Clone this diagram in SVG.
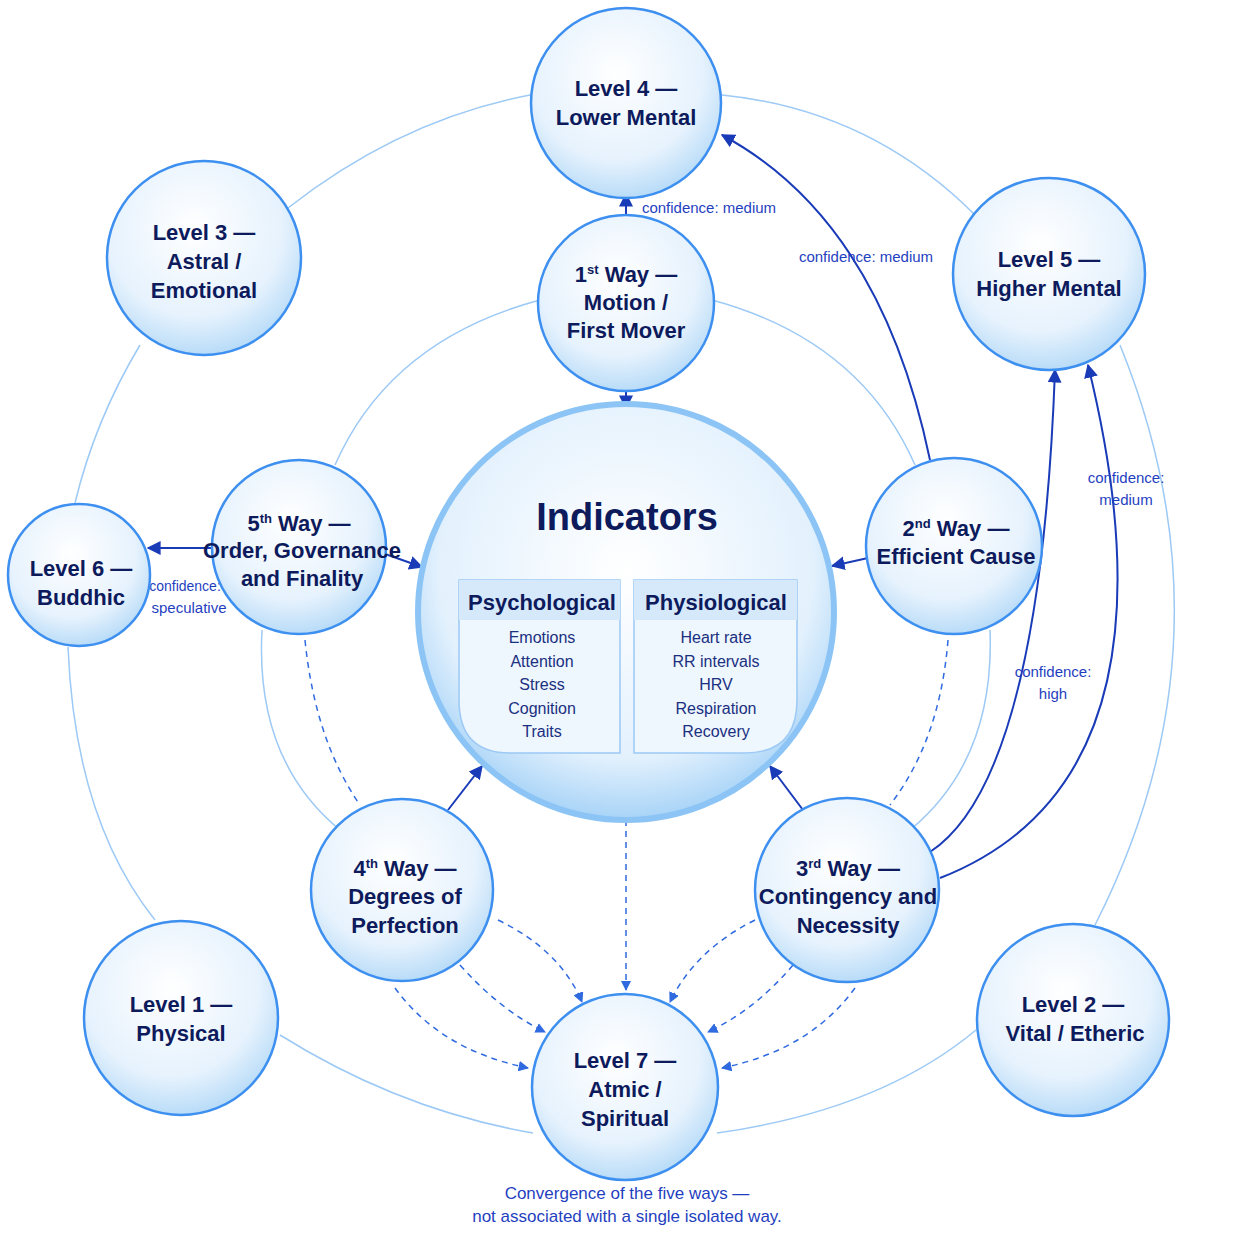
<svg xmlns="http://www.w3.org/2000/svg" width="1254" height="1254" viewBox="0 0 1254 1254">
<defs>
<radialGradient id="g" cx="45%" cy="35%" r="65%"><stop offset="0" stop-color="#ffffff"/><stop offset="0.7" stop-color="#e6f2fd"/><stop offset="1" stop-color="#b9dcf8"/></radialGradient>
<radialGradient id="gi" cx="50%" cy="40%" r="60%"><stop offset="0" stop-color="#ffffff"/><stop offset="0.75" stop-color="#e3f1fd"/><stop offset="1" stop-color="#a7d3f7"/></radialGradient>
<marker id="a" viewBox="0 0 10 10" refX="9" refY="5" markerWidth="7" markerHeight="7" orient="auto"><path d="M0,0L10,5L0,10z" fill="#1a3bb8"/></marker>
<marker id="b" viewBox="0 0 10 10" refX="9" refY="5" markerWidth="7" markerHeight="7" orient="auto"><path d="M0,0L10,5L0,10z" fill="#2f6ae0"/></marker>
<style>
.n{fill:url(#g);stroke:#3d8ff0;stroke-width:2.5}
.t{font-family:"Liberation Sans Narrow","Liberation Sans",sans-serif;font-weight:bold;font-size:22px;fill:#0d1a5c;text-anchor:middle}
.r{fill:none;stroke:#9cc9f5;stroke-width:1.5}
.s{fill:none;stroke:#1a3bb8;stroke-width:2;marker-end:url(#a)}
.d{fill:none;stroke:#2f6ae0;stroke-width:1.5;stroke-dasharray:6 5;marker-end:url(#b)}
.dl{fill:none;stroke:#2f6ae0;stroke-width:1.5;stroke-dasharray:6 5}
.c{font-family:"Liberation Sans",sans-serif;font-size:15px;fill:#1f3fbf;text-anchor:middle}
.p{font-family:"Liberation Sans",sans-serif;font-size:16px;fill:#1a3080;text-anchor:middle}
</style>
</defs>
<rect width="1254" height="1254" fill="#fff"/>
<g id="connectors">
<path class="r" d="M288,208 Q400,120 530,95"/>
<path class="r" d="M722,95 Q870,110 975,215"/>
<path class="r" d="M140,345 Q95,420 75,503"/>
<path class="r" d="M68,647 Q75,820 155,920"/>
<path class="r" d="M280,1035 Q400,1110 533,1133"/>
<path class="r" d="M717,1133 Q880,1110 976,1030"/>
<path class="r" d="M1120,345 Q1240,640 1095,925"/>
<path class="r" d="M335,465 Q390,340 540,300"/>
<path class="r" d="M712,300 Q860,340 915,465"/>
<path class="r" d="M262,630 Q255,760 340,830"/>
<path class="r" d="M990,630 Q995,760 910,830"/>
<path class="dl" d="M305,640 Q315,740 360,805"/>
<path class="dl" d="M948,640 Q940,740 890,805"/>
<path class="d" d="M626,820 L626,990"/>
<path class="d" d="M498,920 Q560,950 582,1002"/>
<path class="d" d="M460,965 Q500,1010 545,1032"/>
<path class="d" d="M395,988 Q440,1050 528,1068"/>
<path class="d" d="M755,920 Q695,950 670,1002"/>
<path class="d" d="M793,965 Q755,1010 708,1032"/>
<path class="d" d="M855,988 Q810,1050 722,1068"/>
<path class="s" d="M626,218 L626,194"/>
<path class="s" d="M626,392 L626,408"/>
<path class="s" d="M930,460 Q880,220 722,135"/>
<path class="s" d="M212,548 L148,548"/>
<path class="s" d="M388,555 L422,567"/>
<path class="s" d="M868,558 L832,566"/>
<path class="s" d="M448,810 L482,766"/>
<path class="s" d="M803,810 L770,766"/>
<path class="s" d="M930,852 Q1040,780 1055,370"/>
<path class="s" d="M940,878 Q1190,780 1088,365"/>
<text class="c" x="709" y="213">confidence: medium</text>
<text class="c" x="866" y="262">confidence: medium</text>
<text class="c" x="1126" y="483">confidence:</text>
<text class="c" x="1126" y="505">medium</text>
<text class="c" x="1053" y="677">confidence:</text>
<text class="c" x="1053" y="699">high</text>
<text class="c" x="185" y="591" style="font-size:14px">confidence:</text>
<text class="c" x="189" y="613">speculative</text>
</g>
<g id="indicators">
<circle cx="626" cy="612" r="208" fill="url(#gi)" stroke="#8cc5f5" stroke-width="6"/>
<text x="627" y="530" style="font-family:'Liberation Sans',sans-serif;font-weight:bold;font-size:38px;fill:#0d1a5c;text-anchor:middle">Indicators</text>
<path d="M459,580 H620 V753 H510 Q459,753 459,700 Z" fill="#eef6fe" stroke="#9cc9f5" stroke-width="1.5"/>
<path d="M459,580 H620 V620 H459 Z" fill="#d6e9fb"/>
<text class="t" x="542" y="610">Psychological</text>
<text class="p" x="542" y="643">Emotions</text><text class="p" x="542" y="667">Attention</text><text class="p" x="542" y="690">Stress</text><text class="p" x="542" y="714">Cognition</text><text class="p" x="542" y="737">Traits</text>
<path d="M634,580 H797 V700 Q797,753 745,753 H634 Z" fill="#eef6fe" stroke="#9cc9f5" stroke-width="1.5"/>
<path d="M634,580 H797 V620 H634 Z" fill="#d6e9fb"/>
<text class="t" x="716" y="610">Physiological</text>
<text class="p" x="716" y="643">Heart rate</text><text class="p" x="716" y="667">RR intervals</text><text class="p" x="716" y="690">HRV</text><text class="p" x="716" y="714">Respiration</text><text class="p" x="716" y="737">Recovery</text>
</g>
<g id="level4"><circle class="n" cx="626" cy="103" r="95"/><text class="t" x="626" y="96">Level 4 —</text><text class="t" x="626" y="125">Lower Mental</text></g>
<g id="level3"><circle class="n" cx="204" cy="258" r="97"/><text class="t" x="204" y="240">Level 3 —</text><text class="t" x="204" y="269">Astral /</text><text class="t" x="204" y="298">Emotional</text></g>
<g id="level5"><circle class="n" cx="1049" cy="274" r="96"/><text class="t" x="1049" y="267">Level 5 —</text><text class="t" x="1049" y="296">Higher Mental</text></g>
<g id="level6"><circle class="n" cx="79" cy="575" r="71"/><text class="t" x="81" y="576">Level 6 —</text><text class="t" x="81" y="605">Buddhic</text></g>
<g id="level1"><circle class="n" cx="181" cy="1018" r="97"/><text class="t" x="181" y="1012">Level 1 —</text><text class="t" x="181" y="1041">Physical</text></g>
<g id="level2"><circle class="n" cx="1073" cy="1020" r="96"/><text class="t" x="1073" y="1012">Level 2 —</text><text class="t" x="1075" y="1041">Vital / Etheric</text></g>
<g id="level7"><circle class="n" cx="625" cy="1087" r="93"/><text class="t" x="625" y="1068">Level 7 —</text><text class="t" x="625" y="1097">Atmic /</text><text class="t" x="625" y="1126">Spiritual</text></g>
<g id="way1"><circle class="n" cx="626" cy="303" r="88"/><text class="t" x="626" y="282">1<tspan font-size="13" dy="-8">st</tspan><tspan dy="8"> Way —</tspan></text><text class="t" x="626" y="310">Motion /</text><text class="t" x="626" y="338">First Mover</text></g>
<g id="way5"><circle class="n" cx="299" cy="547" r="87"/><text class="t" x="299" y="531">5<tspan font-size="13" dy="-8">th</tspan><tspan dy="8"> Way —</tspan></text><text class="t" x="302" y="558">Order, Governance</text><text class="t" x="302" y="586">and Finality</text></g>
<g id="way2"><circle class="n" cx="954" cy="546" r="88"/><text class="t" x="956" y="536">2<tspan font-size="13" dy="-8">nd</tspan><tspan dy="8"> Way —</tspan></text><text class="t" x="956" y="564">Efficient Cause</text></g>
<g id="way4"><circle class="n" cx="402" cy="890" r="91"/><text class="t" x="405" y="876">4<tspan font-size="13" dy="-8">th</tspan><tspan dy="8"> Way —</tspan></text><text class="t" x="405" y="904">Degrees of</text><text class="t" x="405" y="933">Perfection</text></g>
<g id="way3"><circle class="n" cx="847" cy="890" r="92"/><text class="t" x="848" y="876">3<tspan font-size="13" dy="-8">rd</tspan><tspan dy="8"> Way —</tspan></text><text class="t" x="848" y="904">Contingency and</text><text class="t" x="848" y="933">Necessity</text></g>
<text class="c" x="627" y="1199" style="font-size:17px">Convergence of the five ways —</text>
<text class="c" x="627" y="1222" style="font-size:17px">not associated with a single isolated way.</text>
</svg>
